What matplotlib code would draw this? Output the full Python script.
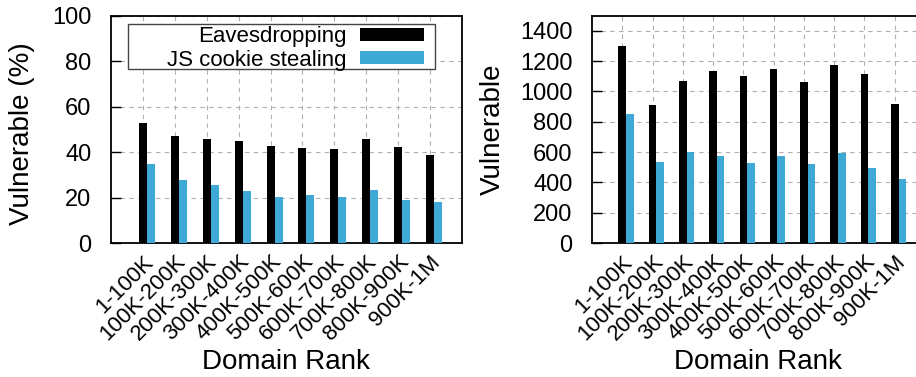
import numpy as np
import matplotlib
matplotlib.use("Agg")
import matplotlib.pyplot as plt
from matplotlib.patches import Rectangle
from matplotlib.transforms import ScaledTranslation

plt.rcParams["font.family"] = ["Liberation Sans", "DejaVu Sans"]

ranks = ["1-100K", "100K-200K", "200K-300K", "300K-400K", "400K-500K",
         "500K-600K", "600K-700K", "700K-800K", "800K-900K", "900K-1M"]
# left panel: share of domains (%)
eaves_pct = [52.8, 47.0, 45.7, 44.9, 42.6, 41.7, 41.3, 45.7, 42.3, 38.8]
js_pct = [34.7, 27.6, 25.4, 22.9, 20.3, 20.9, 20.3, 23.1, 18.9, 18.0]
# right panel: absolute counts
eaves_cnt = [1297, 913, 1070, 1132, 1103, 1149, 1065, 1176, 1114, 918]
js_cnt = [850, 537, 599, 575, 528, 575, 522, 594, 495, 421]

BLUE = "#3fa9d6"
W = 0.25

fig = plt.figure(figsize=(9.16, 3.77), dpi=100)
ax1 = fig.add_axes([111 / 916, 134 / 377, 351 / 916, 227.3 / 377])
ax2 = fig.add_axes([592 / 916, 134 / 377, 333 / 916, 227.3 / 377])


def draw(ax, eaves, js, ylim, yticks, ylabel):
    x = np.arange(len(ranks))
    ax.bar(x, eaves, W, color="black", zorder=3, label="Eavesdropping")
    ax.bar(x + W, js, W, color=BLUE, zorder=3, label="JS cookie stealing")
    ax.set_xlim(-1, 10)
    ax.set_ylim(*ylim)
    ax.set_yticks(yticks)
    ax.set_xticks(x)
    ax.set_xticklabels(ranks, rotation=45, ha="right", va="top",
                       rotation_mode="anchor", fontsize=16)
    off = ScaledTranslation(8 / 100, 0, fig.dpi_scale_trans)
    for lab in ax.get_xticklabels():
        lab.set_transform(lab.get_transform() + off)
    ax.tick_params(axis="x", length=0, pad=6)
    ax.tick_params(axis="y", direction="in", length=7, width=1, labelsize=17, pad=14)
    ax.grid(True, color="#b0b0b0", lw=0.8, ls=(0, (4, 4)), zorder=0)
    for s in ax.spines.values():
        s.set_linewidth(1.3)
    ax.set_ylabel(ylabel, fontsize=20, va="center")
    ax.set_xlabel("Domain Rank", fontsize=20, va="center")


draw(ax1, eaves_pct, js_pct, (0, 100), range(0, 101, 20), "Vulnerable (%)")
draw(ax2, eaves_cnt, js_cnt, (0, 1500), range(0, 1401, 200), "Vulnerable")
ax1.yaxis.set_label_coords(-0.254, 0.48)
ax2.yaxis.set_label_coords(-0.297, 0.5)
ax1.xaxis.set_label_coords(0.5, -0.525)
ax2.xaxis.set_label_coords(0.5, -0.525)

# legend: text right-aligned against the swatches, frame drawn separately
leg = ax1.legend(loc="upper right", bbox_to_anchor=(0.905, 0.973), borderaxespad=0,
                 fontsize=16, markerfirst=False, frameon=False,
                 handlelength=2.9, handleheight=0.55, labelspacing=0.1,
                 borderpad=0.2, handletextpad=0.6)
for t in leg.get_texts():
    t.set_ha("right")
leg._legend_box.align = "right"
leg.set_zorder(6)
ax1.add_patch(Rectangle((0.0476, 0.7655), 0.923 - 0.0476, 0.9635 - 0.7655,
                        transform=ax1.transAxes, facecolor="white",
                        edgecolor="#444444", lw=1.0, zorder=5))

fig.savefig("out.png", dpi=100, facecolor="white")
